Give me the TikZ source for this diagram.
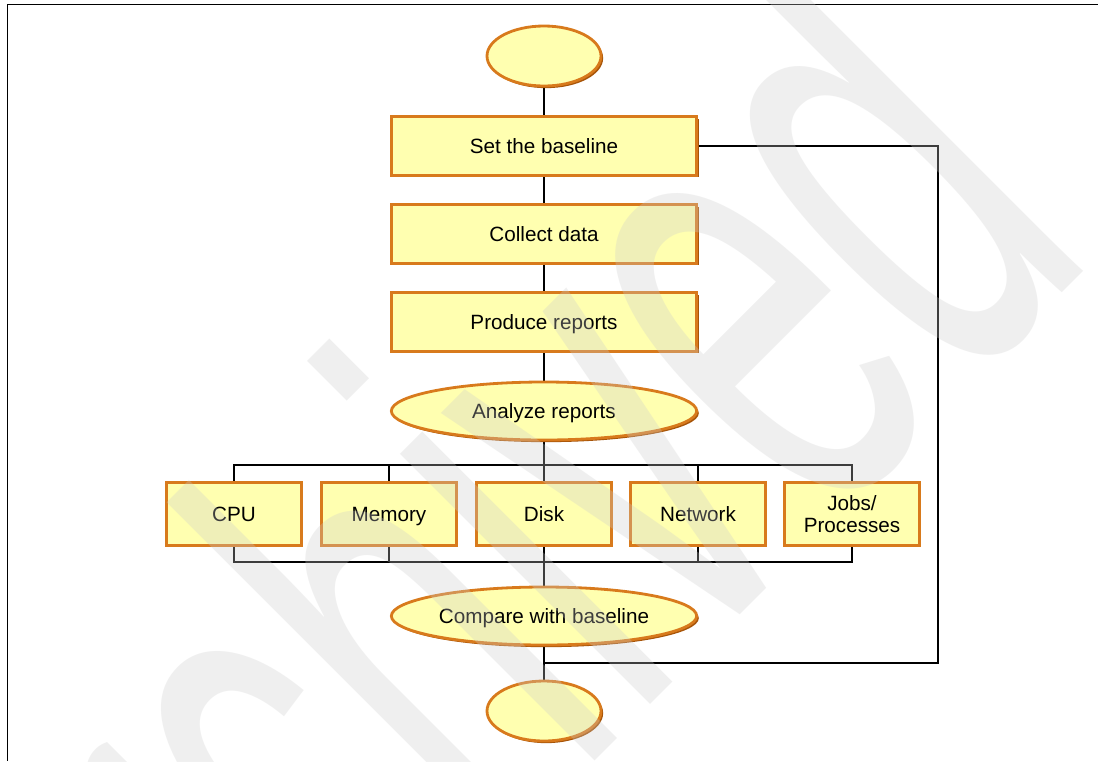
\documentclass[tikz,border=0pt]{standalone}
\usepackage{fontspec}
\setmainfont{Liberation Sans}
\usepackage{graphicx}
\usetikzlibrary{shapes.geometric,shadows,backgrounds}
\definecolor{fillY}{HTML}{FFFFB0}
\definecolor{edgeO}{HTML}{D87A1C}
\definecolor{shadO}{HTML}{A65408}
\begin{document}
\begin{tikzpicture}[x=0.75pt,y=-0.75pt,
  shp/.style={draw=edgeO, line width=2.1pt, fill=fillY, inner sep=0pt,
    font=\fontsize{15.5pt}{17pt}\selectfont, align=center,
    drop shadow={shadow xshift=1.6pt, shadow yshift=-1.6pt, fill=shadO, opacity=1}},
  oneline/.style={text height=11pt, text depth=0pt},
  bigbox/.style={shp, oneline, rectangle, minimum width=229pt, minimum height=44pt},
  smallbox/.style={shp, rectangle, minimum width=101pt, minimum height=47pt},
  oval/.style={shp, oneline, ellipse, minimum width=229pt, minimum height=43.5pt},
  term/.style={shp, ellipse, minimum width=85.5pt, minimum height=45pt},
  wire/.style={line width=1.6pt, black},
  frameline/.style={line width=0.9pt, black}]
\useasboundingbox (0,0) rectangle (1098,761);
\draw[frameline] (1098,4.5) -- (7.5,4.5) -- (7.5,761);

\node[term] (start) at (544,56) {};
\node[bigbox] (base) at (544,146) {Set the baseline};
\node[bigbox] (collect) at (544,234) {Collect data};
\node[bigbox] (produce) at (544,322) {Produce reports};
\node[oval] (analyze) at (544,411) {Analyze reports};
\node[smallbox, oneline] (cpu) at (234,514) {CPU};
\node[smallbox, oneline] (mem) at (389,514) {Memory};
\node[smallbox, oneline] (disk) at (544,514) {Disk};
\node[smallbox, oneline] (net) at (698,514) {Network};
\node[smallbox] (jobs) at (852,514) {Jobs/\\Processes};
\node[oval] (compare) at (544,616) {Compare with baseline};
\node[term] (stop) at (544,711) {};

\coordinate (bt) at (544,465);
\coordinate (bb) at (544,562);
\coordinate (fr) at (938,146);
\coordinate (fj) at (544,663);

\begin{pgfonlayer}{background}
\fill[white] (0,0) rectangle (1098,761);
\draw[wire] (start) -- (base);
\draw[wire] (base) -- (collect);
\draw[wire] (collect) -- (produce);
\draw[wire] (produce) -- (analyze);
\draw[wire] (analyze.south) -- (bt);
\draw[wire] (cpu.north) |- (jobs.north |- bt) -- (jobs.north);
\draw[wire] (mem.north) -- (mem.north |- bt);
\draw[wire] (bt) -- (disk.north);
\draw[wire] (net.north) -- (net.north |- bt);
\draw[wire] (cpu.south) |- (jobs.south |- bb) -- (jobs.south);
\draw[wire] (mem.south) -- (mem.south |- bb);
\draw[wire] (disk.south) -- (bb);
\draw[wire] (net.south) -- (net.south |- bb);
\draw[wire] (bb) -- (compare.north);
\draw[wire] (compare.south) -- (stop.north);
\draw[wire] (base.east) -- (fr) |- (fj);
\end{pgfonlayer}

\begin{scope}
\clip (0,0) rectangle (1098,761);
\node[rotate=45, anchor=base west, inner sep=0pt, text=black!20, text opacity=0.3,
  font=\fontsize{270pt}{270pt}\selectfont] (wm) at (110,1245) {\scalebox{1}[1.86]{Archived}};
\end{scope}
\end{tikzpicture}
\end{document}
